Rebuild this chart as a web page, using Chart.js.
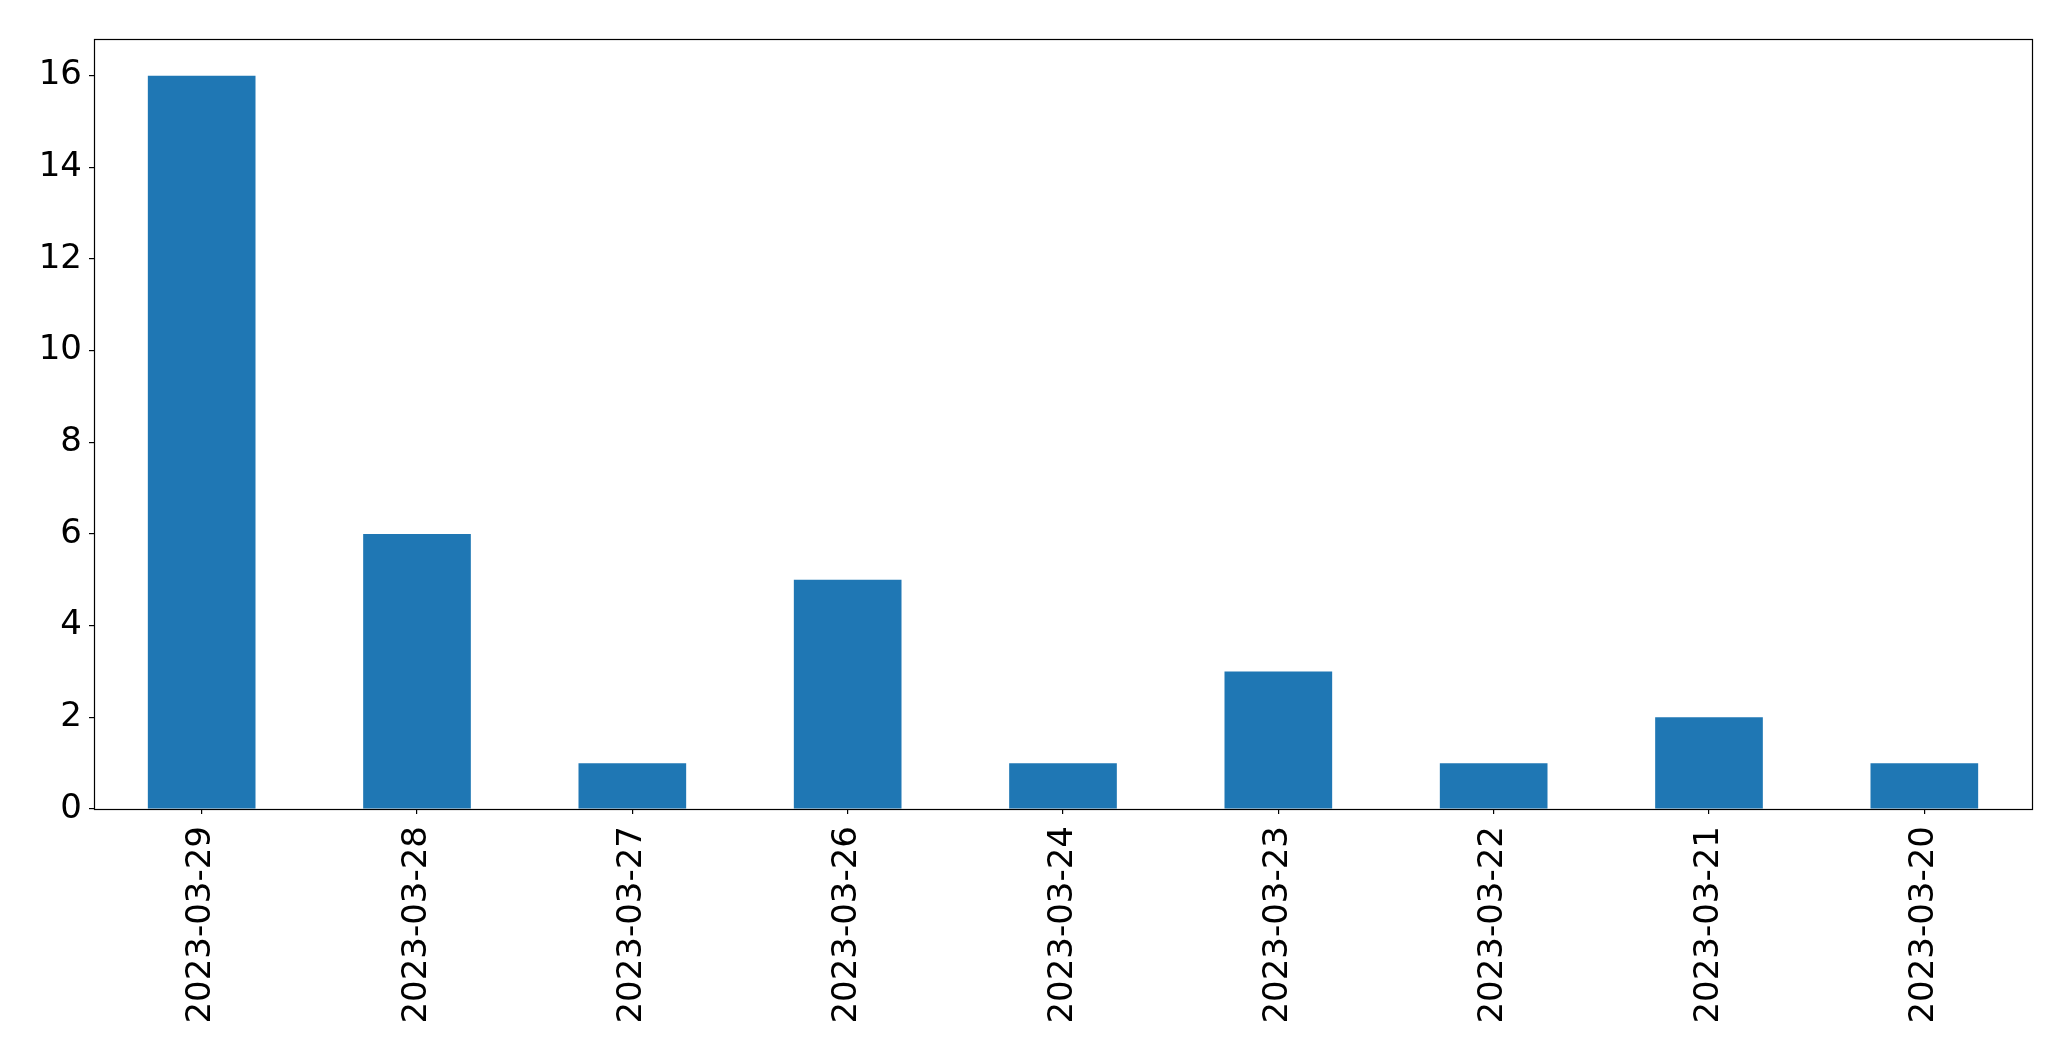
<!DOCTYPE html>
<html>
<head>
<meta charset="utf-8">
<script src="https://cdn.jsdelivr.net/npm/chart.js@4/dist/chart.umd.min.js"></script>
<style>
html,body{margin:0;padding:0;background:#fff;}
canvas{display:block;}
</style>
</head>
<body>
<canvas id="c" width="2071" height="1061"></canvas>
<script>
const categories = ["2023-03-29","2023-03-28","2023-03-27","2023-03-26","2023-03-24","2023-03-23","2023-03-22","2023-03-21","2023-03-20"];
const counts = [16, 6, 1, 5, 1, 3, 1, 2, 1];
const yTicks = [0, 2, 4, 6, 8, 10, 12, 14, 16];

const frame = {
  id: 'frame',
  afterDatasetsDraw(chart) {
    const a = chart.chartArea, ctx = chart.ctx;
    ctx.save();
    ctx.strokeStyle = '#000';
    ctx.lineWidth = 1.2;
    ctx.strokeRect(Math.round(a.left) + 0.5, Math.round(a.top) + 0.5, Math.round(a.right - a.left), Math.round(a.bottom - a.top));
    ctx.restore();
  }
};

new Chart(document.getElementById('c'), {
  type: 'bar',
  data: {
    labels: categories,
    datasets: [{
      data: counts,
      backgroundColor: '#1f77b4',
      borderWidth: 0,
      barPercentage: 0.5,
      categoryPercentage: 1.0
    }]
  },
  options: {
    responsive: false,
    animation: false,
    devicePixelRatio: 1,
    layout: { padding: { top: 39, right: 39, left: 0, bottom: 0 } },
    plugins: { legend: { display: false }, tooltip: { enabled: false } },
    scales: {
      x: {
        grid: { display: true, drawOnChartArea: false, drawTicks: true, tickLength: 5, color: '#000', lineWidth: 1.2, offset: false },
        border: { display: false },
        ticks: { color: '#000', font: { family: 'DejaVu Sans', size: 34 }, minRotation: 90, maxRotation: 90, padding: 12, autoSkip: false },
        afterFit(s) { s.height = 252; }
      },
      y: {
        min: 0,
        max: 16.8,
        grid: { display: true, drawOnChartArea: false, drawTicks: true, tickLength: 5, color: '#000', lineWidth: 1.2 },
        border: { display: false },
        ticks: { color: '#000', font: { family: 'DejaVu Sans', size: 34 }, padding: 7, includeBounds: false, stepSize: 2 },
        afterBuildTicks(s) { s.ticks = yTicks.map(v => ({ value: v })); },
        afterFit(s) { s.width = 94; }
      }
    }
  },
  plugins: [frame]
});
</script>
</body>
</html>
